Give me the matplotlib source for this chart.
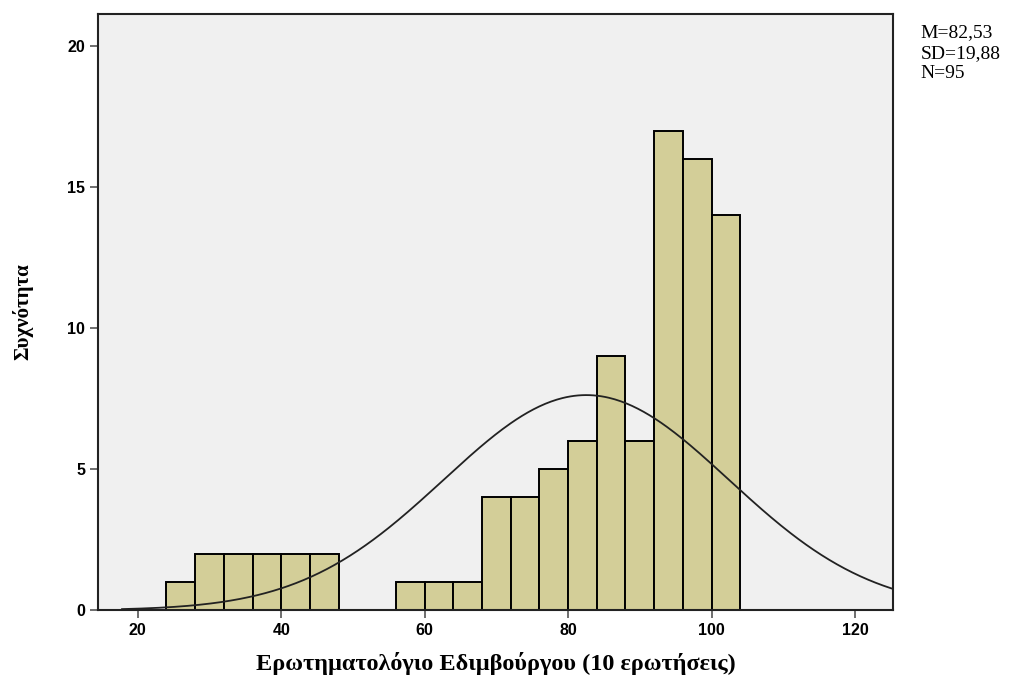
import numpy as np
import matplotlib
matplotlib.use("Agg")
import matplotlib.pyplot as plt

# Histogram of questionnaire scores (bin width 4, from 24 to 104)
bin_edges = [24, 28, 32, 36, 40, 44, 48, 52, 56, 60, 64, 68, 72, 76, 80, 84, 88, 92, 96, 100, 104]
counts = [1, 2, 2, 2, 2, 2, 0, 0, 1, 1, 1, 4, 4, 5, 6, 9, 6, 17, 16, 14]

mean_score = 82.53
sd_score = 19.88
n_total = 95

x_ticks = [20, 40, 60, 80, 100, 120]
y_ticks = [0, 5, 10, 15, 20]

bar_color = "#D3CE98"
bg_color = "#F0F0F0"

fig = plt.figure(figsize=(10.30, 6.81), dpi=100)
ax = fig.add_axes([0.0955, 0.104, 0.7715, 0.876])
ax.set_facecolor(bg_color)

lefts = np.array(bin_edges[:-1])
widths = np.diff(bin_edges)
ax.bar(lefts, counts, width=widths, align="edge", color=bar_color,
       edgecolor="black", linewidth=1.4, zorder=2)

# Fitted normal curve scaled to counts
xlo, xhi = 14.5, 125.3
xs = np.linspace(17.8, xhi, 400)
bw = bin_edges[1] - bin_edges[0]
pdf = np.exp(-0.5 * ((xs - mean_score) / sd_score) ** 2) / (sd_score * np.sqrt(2 * np.pi))
ax.plot(xs, n_total * bw * pdf, color="#222222", linewidth=1.3, zorder=3)

ax.set_xlim(xlo, xhi)
ax.set_ylim(0, 21.15)
ax.set_xticks(x_ticks)
ax.set_yticks(y_ticks)
ax.tick_params(axis="both", direction="out", length=6, width=1.2, color="#555555",
               labelsize=11.5)
for lab in ax.get_xticklabels() + ax.get_yticklabels():
    lab.set_fontfamily("Liberation Sans")
    lab.set_fontweight("bold")
for sp in ax.spines.values():
    sp.set_linewidth(1.5)
    sp.set_color("#222222")

ax.set_xlabel("Ερωτηματολόγιο Εδιμβούργου (10 ερωτήσεις)", fontsize=17.5,
              fontfamily="Liberation Serif", fontweight="bold", labelpad=10)
ax.set_ylabel("Συχνότητα", fontsize=15, fontfamily="Liberation Serif",
              fontweight="bold", labelpad=24)

stats_text = f"M=82,53\nSD=19,88\nN={n_total}"
fig.text(0.894, 0.964, stats_text, fontsize=14, fontfamily="Liberation Serif",
         va="top", ha="left", linespacing=1.25)

fig.savefig("out.png", dpi=100)
